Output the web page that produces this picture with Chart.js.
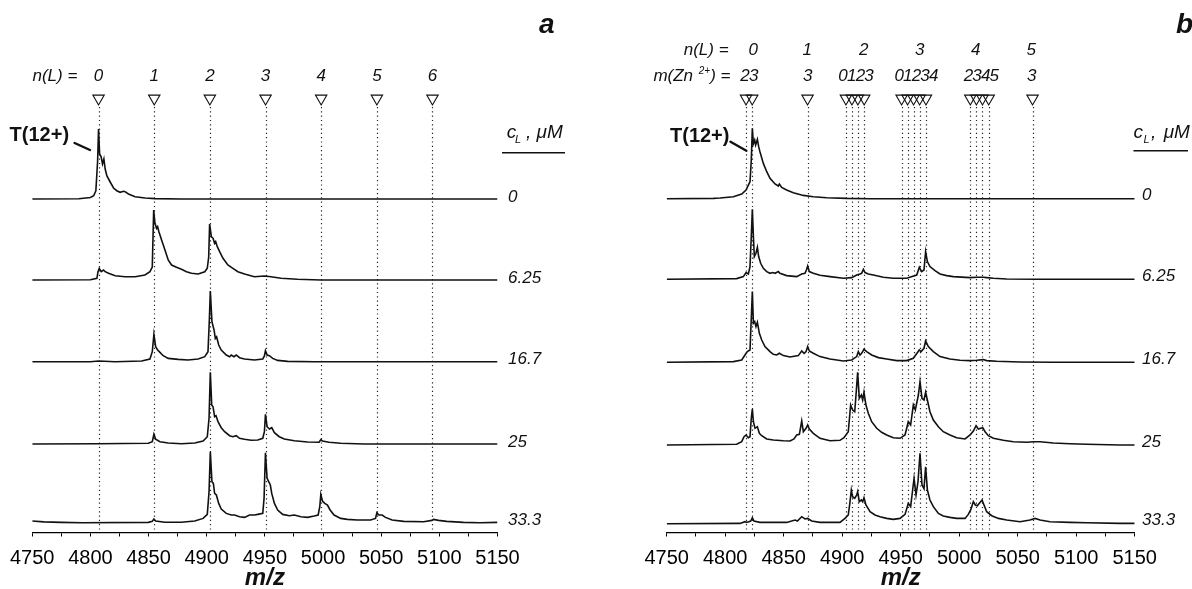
<!DOCTYPE html>
<html>
<head>
<meta charset="utf-8">
<script src="https://cdn.jsdelivr.net/npm/chart.js@4.4.1/dist/chart.umd.min.js"></script>
<style>
  html, body { margin: 0; padding: 0; background: #fff; }
  #wrap { position: relative; width: 1192px; height: 589px; overflow: hidden; }
  canvas { position: absolute; top: 0; }
</style>
</head>
<body>
<div id="wrap">
  <canvas id="chartA" width="596" height="589" style="left:0"></canvas>
  <canvas id="chartB" width="596" height="589" style="left:596px"></canvas>
</div>
<script>
const mzMin = 4750, mzMax = 5150;
const concentrations = ["0", "6.25", "16.7", "25", "33.3"];

// panel a: n(L) peaks
const peaksA = [4807, 4854.9, 4902.7, 4950.6, 4998.4, 5046.3, 5094.1];
const nLabelsA = ["0", "1", "2", "3", "4", "5", "6"];

// panel b: n(L) / m(Zn2+) peaks
const peaksB = [4817.8, 4823.1, 4870.4, 4903.2, 4908.3, 4913.4, 4918.8, 4950.8, 4955.9,
  4961.0, 4966.2, 4971.6, 5009.5, 5014.7, 5019.9, 5025.2, 5062.7];
const nLabelsB = ["0", "1", "2", "3", "4", "5"];
const nPosB = [4823.9, 4870.2, 4918.4, 4966.2, 5014.1, 5061.6];
const znLabelsB = ["23", "3", "0123", "01234", "2345", "3"];
const znPosB = [4820.3, 4870.2, 4911.5, 4963.1, 5018.6, 5061.6];

// spectra: [m/z, intensity]
const specA0 = [[4750,0],[4790,0.3],[4800,1.5],[4802.8,3.3],[4804.7,8.3],[4806.2,38],[4807,70],[4807.9,45],[4809.3,42],[4810.4,35],[4811.6,40],[4812.7,30],[4814.2,23],[4817,17],[4819.9,11],[4822.7,8.3],[4825.6,6.7],[4828.4,7.7],[4829.8,7.3],[4832.7,5],[4838.4,2.3],[4847,1],[4855.5,0.4],[4878,0],[5150,0]];
const specA1 = [[4750,0],[4800,0.2],[4805.6,1.7],[4806.5,8],[4807.6,11.7],[4809.3,8.3],[4811.3,10],[4812.7,8.3],[4815.6,6.7],[4821.3,4.3],[4829.8,3.3],[4838.4,3.3],[4846.9,5],[4851.2,8.3],[4853.2,13],[4854.4,70],[4855.5,56.7],[4856.9,51.7],[4857.8,53.3],[4858.9,48.3],[4861.2,40],[4864.1,30],[4866.9,20],[4869.8,15],[4874,12.7],[4878.3,10.7],[4882.6,8.3],[4886.9,6.7],[4892.6,6],[4898.3,8.3],[4900.5,11.7],[4901.7,23],[4902.5,56],[4904,43.3],[4905.4,41.7],[4906.8,36.7],[4907.7,38.3],[4909.1,33.3],[4911.1,28.3],[4914,21.7],[4918.2,15],[4922.5,11.7],[4926.8,8.3],[4932.5,6],[4941,3.3],[4949.6,4],[4955.3,3.3],[4963.9,1.7],[4978.1,0.7],[4998.1,0],[5150,0]];
const specA2 = [[4750,0],[4800,0],[4807,0.7],[4821.3,0],[4844.1,0.7],[4851.2,2.7],[4853.2,10],[4854.6,27.3],[4856.1,15],[4857.8,11.7],[4859.8,9.3],[4862.6,6],[4866.9,3.3],[4875.5,2.3],[4884,1.7],[4892.6,2.7],[4898.3,5],[4901.1,10],[4902.3,43],[4903.1,70.7],[4904.5,40],[4906.3,31.7],[4907.4,23.3],[4908.5,25],[4910.3,16.7],[4912.5,11.7],[4916.8,6.7],[4919.7,5],[4921.1,6.7],[4923.4,5],[4925.4,6.7],[4928.2,4],[4932.5,2.7],[4941.1,1.7],[4948.2,2.7],[4949.6,5.7],[4950.5,11],[4951.9,6.7],[4953.9,6],[4956.7,3.3],[4961,1.3],[4969.6,0.3],[4992.4,0],[5150,0]];
const specA3 = [[4750,0],[4807,0.3],[4849.8,0.7],[4853.2,2.3],[4854.6,9.7],[4856.1,4.7],[4859.8,2.3],[4866.9,1],[4878.3,0.3],[4889.7,1],[4896.9,3],[4900.5,7.3],[4902,25.7],[4903.1,71.7],[4904.3,39],[4905.4,37.3],[4906.8,27.3],[4908,28.3],[4909.7,22.3],[4912.5,16.3],[4915.4,12.3],[4919.7,8.3],[4922.5,7.3],[4925.4,8.3],[4928.2,5.7],[4932.5,4.7],[4938.2,3.7],[4943.9,4],[4948.2,5.7],[4949.6,12.3],[4950.5,29.7],[4951.9,17.3],[4953.9,15],[4955.9,16.3],[4958.2,11.3],[4962.4,7.3],[4966.7,5],[4975.3,3.3],[4986.7,2],[4996.6,1.7],[4998.1,4.3],[4999.5,3],[5005.2,1.7],[5015.2,0.7],[5035.1,0],[5150,0]];
const specA4 = [[4750,1.7],[4760,0.8],[4775,0.3],[4792.8,0],[4849.8,0.3],[4853.2,1.3],[4854.6,3.7],[4856.1,1.7],[4864.1,0.5],[4878.3,0.5],[4889.7,1.7],[4896.9,4.3],[4900.5,8.3],[4902,31],[4903.1,71],[4904.5,41],[4905.7,39.3],[4906.8,29.3],[4908.3,27.7],[4910.3,19.3],[4912.5,13.7],[4916.8,9.3],[4921.1,7.7],[4924,7.7],[4928.2,6],[4932.5,5.3],[4936.8,7.7],[4941.1,7.7],[4943.9,8.3],[4948.2,9.3],[4949.3,24.3],[4950.5,70],[4951.9,44.3],[4953.3,41],[4954.7,37.7],[4955.9,29.3],[4958.2,19.3],[4961,12.7],[4965.3,8.3],[4971,7],[4975.3,7.7],[4981,6],[4986.7,5.3],[4992.4,6.7],[4995.8,7.7],[4997.2,16],[4998.1,28.3],[4999.5,21.7],[5001.5,19.3],[5003.8,17.7],[5006.1,12.7],[5009.5,7.7],[5015.2,4.3],[5020.9,3.3],[5029.5,2.7],[5040.9,2.7],[5045.1,4.3],[5046.3,10],[5048,7.7],[5050.8,7.7],[5053.7,5.3],[5059.4,2.7],[5069.4,1.3],[5086.5,1],[5093.6,2.3],[5095,3.3],[5099.3,2.3],[5106.4,1.3],[5120.7,0.3],[5135,0],[5150,0.3]];

const specB0 = [[4750,0],[4790,0.3],[4795.6,0.7],[4807,2],[4814.1,4.7],[4817.8,8.7],[4821.2,17],[4822.3,38.7],[4823.2,70.3],[4824.1,55],[4825.2,58.7],[4826,53.7],[4827.5,59.3],[4828.6,52],[4829.7,47],[4832.6,35.3],[4835.5,27],[4838.3,20.3],[4842.6,14.7],[4845.4,12.7],[4846.3,14.7],[4848.3,11.3],[4852.5,8.7],[4858.2,6],[4866.8,3.3],[4875.3,2],[4886.7,1],[4903.8,0.3],[4923.8,0],[5150,0]];
const specB1 = [[4750,0],[4809.8,0.7],[4815.5,2.7],[4817.8,6.7],[4819.8,5.3],[4821.2,12.7],[4822.3,42.7],[4823.2,70],[4824.1,42.7],[4824.9,22.7],[4826.3,26],[4827.5,32],[4828.6,22.7],[4830.3,16],[4832.6,11],[4835.5,7.7],[4838.3,6],[4840.6,6.7],[4842.6,6],[4845.4,7.7],[4846.8,6],[4852.5,3.7],[4861.1,2.7],[4865.4,5.3],[4868.2,6],[4869.4,9.3],[4870.5,13.3],[4871.9,7.7],[4875.3,6],[4881,4],[4889.6,2.7],[4901,1],[4908.1,1.7],[4912.4,4.3],[4915.2,5.3],[4916.6,6],[4918.1,10],[4919.5,6.7],[4922.3,5.3],[4926.6,4.3],[4935.2,2],[4943.7,1],[4955.1,1],[4963.7,4.3],[4965.9,12],[4967.9,7.7],[4969.9,9.3],[4971.3,27.7],[4972.8,17.7],[4975,12.7],[4979.3,8.7],[4983.6,5.3],[4989.3,3.7],[4995,2.7],[5009.3,1.7],[5014.9,2],[5020.6,2],[5023.5,1.7],[5029.2,1],[5040.6,0.3],[5066.2,0],[5150,0]];
const specB2 = [[4750,0],[4807,0.7],[4814.1,2.3],[4816.9,7.3],[4818.9,10.7],[4821.2,12.3],[4822.3,44],[4823.2,70.7],[4824.1,39],[4825.2,40.7],[4826.3,35.7],[4827.5,40],[4829.2,29],[4831.2,22.3],[4834,15.7],[4838.3,10.7],[4841.1,8],[4844,7.3],[4846.3,9],[4849.7,6.7],[4855.4,5.3],[4862.5,6.7],[4865.4,11.3],[4867.4,9],[4869.1,10.7],[4870.5,15.7],[4871.9,11.3],[4875.3,9],[4881,5.7],[4889.6,3.3],[4901,1.3],[4908.1,2.3],[4912.4,5.7],[4913.8,10.7],[4915.2,7.3],[4916.6,9],[4918.6,13],[4920.9,10.7],[4925.2,7.3],[4930.9,4.7],[4938,3.3],[4946.6,1.7],[4955.1,1.7],[4960.8,4],[4965.9,12.3],[4967.4,10.7],[4969.9,14],[4971.3,21.3],[4973.6,15.7],[4977.9,10.7],[4983.6,5.7],[4992.1,3.3],[5000.7,2],[5009.3,1.7],[5014.9,2],[5020.6,2.7],[5023.5,1.7],[5032,1],[5052,0.3],[5080.5,0],[5150,0]];
const specB3 = [[4750,0],[4809.8,0.7],[4814.1,3.3],[4816.1,8.3],[4817.8,10],[4819.8,7.3],[4821.2,8.3],[4822.3,26.7],[4823.2,36],[4824.1,23.3],[4825.5,16.7],[4827.5,18.3],[4829.2,11.7],[4831.2,9.3],[4835.5,6],[4841.1,5],[4849.7,4.3],[4855.4,4],[4858.8,6],[4861.1,10],[4863.4,10.7],[4865.4,24],[4866.8,13.3],[4869.1,16.7],[4870.5,20],[4871.9,16],[4875.3,11.7],[4881,6.7],[4889.6,4.3],[4898.1,4.7],[4901.5,7.3],[4905.2,13.3],[4907.2,40],[4908.9,35],[4910.7,33.3],[4911.8,50],[4913.2,72.7],[4914.6,46.7],[4916.4,50],[4917.5,45],[4918.6,52.7],[4920.3,40],[4922.3,31.7],[4925.2,23.3],[4929.5,16.7],[4933.7,12.7],[4938,10],[4943.7,7.3],[4949.4,6.7],[4953.7,10],[4956.5,23.3],[4958.5,20],[4960.8,40],[4962.5,35],[4965.1,50],[4966.5,63.3],[4968.2,46.7],[4969.9,45],[4971.3,52.7],[4972.8,45],[4975,33.3],[4977.9,25],[4982.2,18.3],[4986.4,13.3],[4992.1,10],[4997.8,7.3],[5005,6],[5009.3,10],[5012.1,14],[5014.4,19.3],[5016.4,16],[5018.4,16.7],[5020.1,17.3],[5022.1,13.3],[5024.9,9.3],[5029.2,6.7],[5037.7,4.7],[5046.3,3.3],[5057.7,2.7],[5063.4,3.3],[5069.1,3.3],[5080.5,2],[5094.7,1.3],[5109,0.7],[5137.4,0],[5150,0]];
const specB4 = [[4750,0],[4812.7,0.3],[4816.9,2],[4818.4,1.3],[4821.8,2.7],[4823.2,6],[4824.6,2.7],[4829.7,1.3],[4852.5,1.3],[4859.7,3.7],[4861.7,2.7],[4865.4,7],[4868.2,4.7],[4870.5,5.3],[4873.9,2.7],[4881,1.3],[4898.1,1.3],[4902.4,5.3],[4905.2,8.7],[4906.7,22],[4907.8,33.7],[4908.9,27],[4910.7,25.3],[4912.4,28.7],[4913.2,32],[4914.6,22],[4916.4,23.7],[4917.5,22],[4918.6,26],[4920.3,18.7],[4923.8,12],[4928,8.7],[4932.3,7],[4938,5.3],[4943.7,4.3],[4949.4,5.3],[4953.7,9.3],[4956.5,20.3],[4958.5,17],[4960.2,33.7],[4961.4,45.3],[4963.1,28.7],[4964.8,42],[4966.5,70.3],[4968.2,38.7],[4969.9,35],[4971.3,57],[4972.8,33.7],[4975,23.7],[4977.9,17],[4982.2,10.3],[4986.4,7.7],[4992.1,6.3],[4997.8,5.3],[5005,5.3],[5007.8,9.3],[5009.8,13.7],[5012.1,22],[5013.8,18.7],[5015.5,18],[5019.5,23.7],[5021.2,18.7],[5023.5,12],[5027.8,8],[5033.5,5.3],[5040.6,3.7],[5052,2],[5060.5,3.7],[5064.8,5.3],[5069.1,3.7],[5077.6,2],[5094.7,1.3],[5109,1],[5137.4,0.3],[5150,0.3]];

const spectraA = [specA0, specA1, specA2, specA3, specA4];
const spectraB = [specB0, specB1, specB2, specB3, specB4];

// vertical stacking of the traces (y units = px, axis line = 0)
const stackA = [333.5, 252.5, 170.8, 88.5, 9.8];
const stackB = [333.8, 253.2, 170.2, 87.5, 8.8];
const MARK_Y = 434.1;
const AXIS_Y = 532.5;

const FONT = '"Liberation Sans", Arial, sans-serif';

function txt(ctx, s, x, y, font, align, base) {
  ctx.font = font;
  ctx.textAlign = align || "left";
  ctx.textBaseline = base || "middle";
  ctx.fillText(s, x, y);
}

function line(ctx, x1, y1, x2, y2, w) {
  ctx.lineWidth = w;
  ctx.beginPath();
  ctx.moveTo(x1, y1);
  ctx.lineTo(x2, y2);
  ctx.stroke();
}

function decoPlugin(d) {
  return {
    id: "deco",
    beforeDatasetsDraw(chart) {
      const ctx = chart.ctx, xs = chart.scales.x;
      ctx.save();
      ctx.strokeStyle = "#222";
      ctx.lineWidth = 1.2;
      ctx.setLineDash([1.2, 3.1]);
      d.peaks.forEach(mz => {
        const x = Math.round(xs.getPixelForValue(mz)) + 0.5;
        ctx.beginPath();
        ctx.moveTo(x, 107);
        ctx.lineTo(x, chart.chartArea.bottom - 1);
        ctx.stroke();
      });
      ctx.restore();
    },
    afterDraw(chart) {
      const ctx = chart.ctx, xs = chart.scales.x, ys = chart.scales.y;
      const X = mz => xs.getPixelForValue(mz) + d.left;
      ctx.save();
      ctx.translate(-d.left, 0);
      ctx.fillStyle = "#111";
      ctx.strokeStyle = "#111";
      const it17 = "italic 17px " + FONT;
      const it19 = "italic 19px " + FONT;

      // panel letter
      txt(ctx, d.letter, d.letterX, 33, "italic bold 28px " + FONT, "left", "alphabetic");

      // n(L) row
      txt(ctx, "n(L) =", d.nTitleX, d.nY, it17, d.nTitleAlign);
      d.nLabels.forEach((s, i) => txt(ctx, s, X(d.nPos[i]), d.nY, it17, "center"));

      // m(Zn2+) row
      if (d.znLabels) {
        ctx.font = it17;
        const right = d.znTitleRight;
        const w3 = ctx.measureText(") =").width;
        txt(ctx, ") =", right, 76, it17, "right");
        ctx.font = "italic 10px " + FONT;
        const ws = ctx.measureText("2+").width;
        txt(ctx, "2+", right - w3, 71, "italic 10px " + FONT, "right");
        txt(ctx, "m(Zn ", right - w3 - ws - 1, 76, it17, "right");
        ctx.letterSpacing = "-0.8px";
        d.znLabels.forEach((s, i) => txt(ctx, s, X(d.znPos[i]), 76, it17, "center"));
        ctx.letterSpacing = "0px";
      }

      // T(12+) with leader
      txt(ctx, "T(12+)", d.tX, d.tY, "bold 20px " + FONT, "left");
      ctx.lineCap = "round";
      line(ctx, d.lead[0], d.lead[1], d.lead[2], d.lead[3], 2.4);

      // c_L, uM header
      txt(ctx, "c", d.cl[0], 133, it19, "left");
      txt(ctx, "L", d.cl[1], 140, "italic 11px " + FONT, "left");
      txt(ctx, ",", d.cl[2], 133, it19, "left");
      txt(ctx, "\u03bcM", d.cl[3], 133, it19, "left");
      ctx.lineCap = "butt";
      line(ctx, d.ul[0], d.ul[2], d.ul[1], d.ul[2], 1.6);

      // concentration labels
      concentrations.forEach((s, i) => {
        const y = ys.getPixelForValue(d.stack[i]) - d.concDy;
        txt(ctx, s, d.concX, y, it17, "left");
      });

      // axis title
      const cx = (chart.chartArea.left + chart.chartArea.right) / 2 + d.left;
      txt(ctx, "m/z", cx, 578, "italic bold 24px " + FONT, "center");
      ctx.restore();
    }
  };
}

function makePanel(id, spectra, d) {
  const datasets = spectra.map((s, i) => ({
    type: "line",
    data: s.map(p => ({ x: p[0], y: p[1] + d.stack[i] })),
    borderColor: "#111",
    borderWidth: 1.6,
    pointRadius: 0,
    tension: 0,
    fill: false
  }));
  datasets.push({
    type: "scatter",
    data: d.peaks.map(mz => ({ x: mz, y: MARK_Y })),
    pointStyle: "triangle",
    rotation: 180,
    pointRadius: 6.6,
    borderColor: "#111",
    borderWidth: 1.1,
    backgroundColor: "rgba(0,0,0,0)",
    clip: false
  });

  return new Chart(document.getElementById(id), {
    type: "line",
    data: { datasets },
    options: {
      responsive: false,
      animation: false,
      events: [],
      layout: { padding: { left: d.padL, right: d.padR, top: AXIS_Y - 440, bottom: 0 } },
      plugins: { legend: { display: false }, tooltip: { enabled: false } },
      scales: {
        x: {
          type: "linear",
          min: mzMin,
          max: mzMax,
          afterFit: s => { s.height = 589 - AXIS_Y; },
          ticks: {
            stepSize: 25,
            autoSkip: false,
            maxRotation: 0,
            padding: 10,
            color: "#000",
            font: { family: FONT, size: 20 },
            callback: v => (v % 50 === 0 ? String(v) : "")
          },
          grid: { display: true, drawOnChartArea: false, drawTicks: true, tickLength: 4, color: "#000", lineWidth: 1 },
          border: { display: true, color: "#000", width: 1.3 }
        },
        y: { display: false, min: 0, max: 440 }
      }
    },
    plugins: [decoPlugin(d)]
  });
}

makePanel("chartA", spectraA, {
  left: 0, padL: 30, padR: 98.5, stack: stackA, peaks: peaksA,
  letter: "a", letterX: 539,
  nY: 76, nTitleX: 32.5, nTitleAlign: "left", nLabels: nLabelsA, nPos: peaksA,
  znLabels: null,
  tX: 9.6, tY: 135, lead: [74.6, 143, 90, 150],
  cl: [506.7, 515, 526, 536.5], ul: [502, 565, 152.7],
  concX: 508, concDy: 2
});

makePanel("chartB", spectraB, {
  left: 596, padL: 70.7, padR: 57.3, stack: stackB, peaks: peaksB,
  letter: "b", letterX: 1176,
  nY: 50, nTitleX: 728.6, nTitleAlign: "right", nLabels: nLabelsB, nPos: nPosB,
  znLabels: znLabelsB, znPos: znPosB, znTitleRight: 730.5,
  tX: 670, tY: 136, lead: [730.5, 141.7, 746.4, 150.7],
  cl: [1133.5, 1143.5, 1151, 1163.7], ul: [1133.5, 1188, 150.7],
  concX: 1142, concDy: 3
});
</script>
</body>
</html>
